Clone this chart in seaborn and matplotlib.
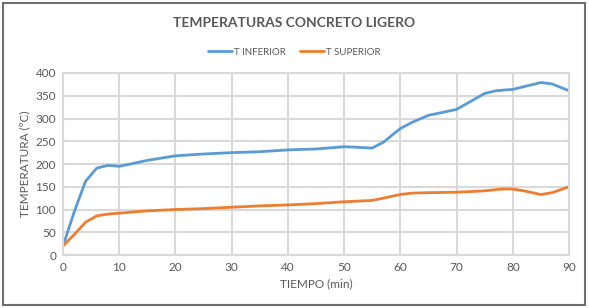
import pandas as pd
import matplotlib.pyplot as plt
import seaborn as sns
from matplotlib.patches import Rectangle

# datos (min, °C)
tiempo_inf = [0, 2, 4, 6, 8, 10, 12, 15, 20, 25, 30, 35, 40, 45, 50, 52, 55, 57, 60,
              62, 65, 67, 70, 72, 75, 77, 80, 82, 85, 87, 90]
t_inferior = [20, 95, 162, 191, 197, 195, 200, 208, 218, 222, 225, 227, 231, 233, 238, 237, 235,
              248, 278, 291, 307, 312, 320, 334, 355, 361, 364, 370, 379, 376, 361]

tiempo_sup = [0, 2, 4, 6, 8, 10, 12, 15, 20, 25, 30, 35, 40, 45, 50, 55, 57, 60,
              62, 65, 70, 75, 78, 80, 82, 85, 87, 90]
t_superior = [20, 45, 72, 86, 90, 92, 94, 97, 100, 102, 105, 108, 110, 113, 117, 120, 125, 133,
              136, 137, 138, 141, 145, 145, 141, 133, 137, 150]

series = ["T INFERIOR", "T SUPERIOR"]
colores = ["#5b9bd5", "#ed7d31"]

df = pd.DataFrame({
    "tiempo": tiempo_inf + tiempo_sup,
    "temp": t_inferior + t_superior,
    "serie": [series[0]] * len(tiempo_inf) + [series[1]] * len(tiempo_sup),
})

sns.set_style("white")
plt.rcParams["font.family"] = ["Lato", "DejaVu Sans"]
gris = "#595959"

fig = plt.figure(figsize=(5.89, 3.08), dpi=100)
fig.patches.append(Rectangle((0.005, 0.01), 0.988, 0.98, transform=fig.transFigure,
                             fill=False, edgecolor="#6f6f6f", linewidth=1.5))
ax = fig.add_axes([0.107, 0.172, 0.859, 0.591])

sns.lineplot(data=df, x="tiempo", y="temp", hue="serie", palette=colores,
             linewidth=2, ax=ax, legend=False)

ax.set_xlim(0, 90)
ax.set_ylim(0, 400)
ax.set_xticks(range(0, 91, 10))
ax.set_yticks(range(0, 401, 50))
ax.grid(True, color="#d9d9d9", linewidth=1.5)
for s in ax.spines.values():
    s.set_color("#d9d9d9")
    s.set_linewidth(1.5)
ax.tick_params(axis="both", colors=gris, labelsize=8.5, length=0, pad=5)
ax.set_xlabel("TIEMPO (min)", color=gris, fontsize=8.5, labelpad=4)
ax.set_ylabel("TEMPERATURA (°C)", color=gris, fontsize=8.5, labelpad=4)

fig.text(0.5, 1 - 23 / 308, "TEMPERATURAS CONCRETO LIGERO", ha="center", va="center",
         fontsize=10, fontweight="bold", color=gris)

handles = [plt.Line2D([], [], color=c, linewidth=2) for c in colores]
fig.legend(handles, series, loc="center", bbox_to_anchor=(0.5, 1 - 52 / 308), ncol=2,
           frameon=False, fontsize=7, labelcolor=gris, handlelength=2.5,
           handletextpad=0.2, columnspacing=1.4)

fig.savefig("out.png", dpi=100)
